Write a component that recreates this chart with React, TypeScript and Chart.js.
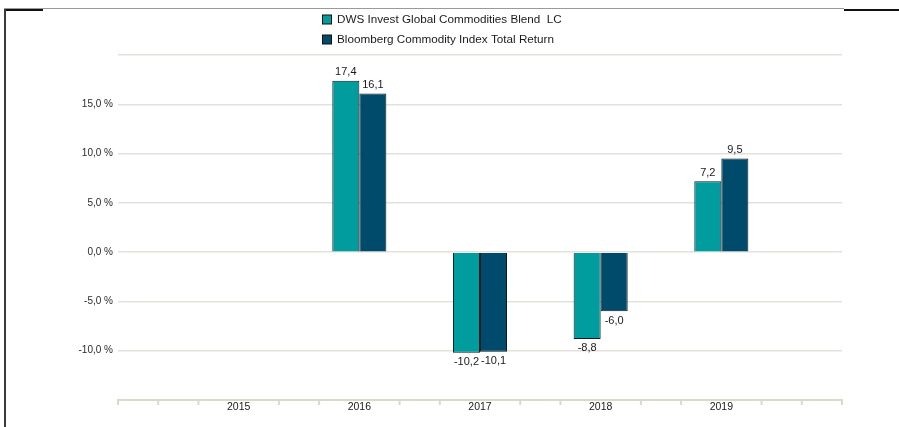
import React, { useEffect, useRef } from "react";
import { Chart, registerables } from "chart.js";

Chart.register(...registerables);

const categories = ["", "2015", "2016", "2017", "2018", "2019", ""];
const seriesNames = ["DWS Invest Global Commodities Blend  LC", "Bloomberg Commodity Index Total Return"];
const fundValues: (number | null)[] = [null, null, 17.4, -10.2, -8.8, 7.2, null];
const indexValues: (number | null)[] = [null, null, 16.1, -10.1, -6.0, 9.5, null];
const yTicks = [-15, -10, -5, 0, 5, 10, 15, 20];
const colors = ["#009c9e", "#004a6c"];

const FONT = "'Liberation Sans', Arial, sans-serif";

const fmt = (v: number) => v.toFixed(1).replace(".", ",");

const extrasPlugin = {
  id: "extras",
  afterDatasetsDraw(chart: any) {
    const ctx = chart.ctx;
    ctx.save();
    // value labels
    ctx.font = `11px ${FONT}`;
    ctx.fillStyle = "#1a1a1a";
    ctx.textAlign = "center";
    chart.data.datasets.forEach((ds: any, di: number) => {
      const meta = chart.getDatasetMeta(di);
      meta.data.forEach((el: any, i: number) => {
        const v = ds.data[i];
        if (v == null) return;
        if (v >= 0) {
          ctx.textBaseline = "bottom";
          ctx.fillText(fmt(v), el.x, el.y - 3);
        } else {
          ctx.textBaseline = "top";
          ctx.fillText(fmt(v), el.x, el.y + 4);
        }
      });
    });
    // x minor ticks
    const xs = chart.scales.x;
    const bottom = chart.chartArea.bottom;
    ctx.strokeStyle = "#dcd8cc";
    ctx.lineWidth = 2;
    const n = categories.length - 1;
    for (let k = 0; k <= n * 3; k++) {
      if (k % 3 === 0 && k > 0 && k < n * 3) continue;
      const px = xs.getPixelForValue(k / 3);
      ctx.beginPath();
      ctx.moveTo(px, bottom);
      ctx.lineTo(px, bottom + 5);
      ctx.stroke();
    }
    // legend
    ctx.font = `11.7px ${FONT}`;
    ctx.textAlign = "left";
    ctx.textBaseline = "middle";
    seriesNames.forEach((name, i) => {
      const y = 20 + i * 20;
      ctx.fillStyle = colors[i];
      ctx.fillRect(322.5, y - 5, 9, 9);
      ctx.strokeStyle = "#111";
      ctx.lineWidth = 1;
      ctx.strokeRect(322.5, y - 5, 9, 9);
      ctx.fillStyle = "#1a1a1a";
      ctx.fillText(name, 337, y);
    });
    ctx.restore();
  },
};

export default function App() {
  const ref = useRef<HTMLCanvasElement>(null);
  useEffect(() => {
    if (!ref.current) return;
    const chart = new Chart(ref.current, {
      type: "bar",
      data: {
        labels: categories,
        datasets: [
          {
            label: seriesNames[0],
            data: fundValues,
            backgroundColor: colors[0],
            borderColor: "#0d1a1f",
            borderWidth: 1,
            categoryPercentage: 0.448,
            barPercentage: 1,
          },
          {
            label: seriesNames[1],
            data: indexValues,
            backgroundColor: colors[1],
            borderColor: "#0d1a1f",
            borderWidth: 1,
            categoryPercentage: 0.448,
            barPercentage: 1,
          },
        ],
      },
      options: {
        animation: false,
        responsive: false,
        maintainAspectRatio: false,
        layout: { padding: { left: 0, right: 57, top: 55, bottom: 0 } },
        plugins: { legend: { display: false }, tooltip: { enabled: false } },
        scales: {
          x: {
            offset: false,
            grid: { color: "rgba(0,0,0,0)", drawTicks: false },
            border: { display: true, color: "#dcd8cc", width: 2 },
            ticks: {
              color: "#1a1a1a",
              font: { size: 10.5, family: FONT },
              padding: 1,
              maxRotation: 0,
              autoSkip: false,
            },
            afterFit: (s: any) => {
              s.height = 27;
            },
          },
          y: {
            min: yTicks[0],
            max: yTicks[yTicks.length - 1],
            afterBuildTicks: (s: any) => {
              s.ticks = yTicks.map((v) => ({ value: v }));
            },
            grid: { color: "#e3e1db", lineWidth: 1.5, drawTicks: false },
            border: { display: false },
            ticks: {
              color: "#2a2a2a",
              font: { size: 10, family: FONT },
              padding: 5,
              callback: (v: any) => (v === 20 || v === -15 ? "" : fmt(Number(v)) + " %"),
            },
            afterFit: (s: any) => {
              s.width = 118;
            },
          },
        },
      },
      plugins: [extrasPlugin],
    } as any);
    return () => chart.destroy();
  }, []);

  return (
    <div style={{ position: "absolute", left: 0, top: 0, width: 899, height: 427, background: "#fff", overflow: "hidden" }}>
      <canvas ref={ref} width={899} height={427} style={{ position: "absolute", left: 0, top: 0, width: 899, height: 427 }} />
      <div style={{ position: "absolute", left: 4, top: 8, width: 840, height: 1, background: "#9a9a9a" }} />
      <div style={{ position: "absolute", left: 5, top: 9, width: 38, height: 2, background: "#111" }} />
      <div style={{ position: "absolute", left: 4, top: 9, width: 2, height: 418, background: "#3a3a3a" }} />
      <div style={{ position: "absolute", left: 844, top: 9, width: 55, height: 2, background: "#111" }} />
    </div>
  );
}
